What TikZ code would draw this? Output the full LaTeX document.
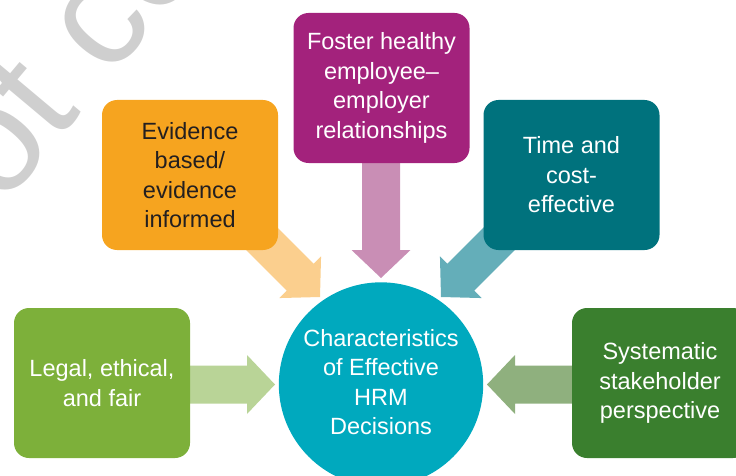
\documentclass[tikz,border=0pt]{standalone}
\usepackage{xcolor}
\usepackage{fontspec}
\setmainfont{Liberation Sans}
\usepackage{tikz}
\usetikzlibrary{positioning, calc, backgrounds}

\definecolor{evidOrange}{HTML}{F6A41F}
\definecolor{evidArrow}{HTML}{FBCF8E}
\definecolor{fosterPurple}{HTML}{A3227C}
\definecolor{fosterArrow}{HTML}{C98EB5}
\definecolor{timeTeal}{HTML}{00727D}
\definecolor{timeArrow}{HTML}{64AEB9}
\definecolor{coreBlue}{HTML}{00A9BE}
\definecolor{legalGreen}{HTML}{7DB03A}
\definecolor{legalArrow}{HTML}{B9D497}
\definecolor{stakeGreen}{HTML}{3A7F2E}
\definecolor{stakeArrow}{HTML}{8FB07E}
\definecolor{markGray}{HTML}{CFCFCF}
\definecolor{darkText}{HTML}{231F20}

\tikzset{
  pics/blockarrow/.style={
    code={
      \fill[pic actions] (0,0) -- (-28,-29.5) -- (-28,-19) -- (-#1,-19)
        -- (-#1,19) -- (-28,19) -- (-28,29.5) -- cycle;
    }
  }
}

\begin{document}
\begin{tikzpicture}[
      x=1pt, y=-1pt,
      trait/.style={
        rectangle,
        rounded corners=15pt,
        minimum width=176pt,
        minimum height=150pt,
        align=center,
        text=white,
        font=\fontsize{23.5}{29.5}\selectfont
      },
      core/.style={
        circle,
        minimum size=195pt,
        fill=coreBlue,
        align=center,
        text=white,
        font=\fontsize{23.5}{29.5}\selectfont
      },
      watermark/.style={
        text=markGray,
        font=\fontsize{150}{150}\selectfont,
        rotate=50
      }
    ]
    \useasboundingbox (0,0) rectangle (736,476);

    % Trait Nodes
    \node (evidence) [trait, fill=evidOrange, text=darkText] at (190,175) {Evidence\\based/\\evidence\\informed};
    \node (foster) [trait, fill=fosterPurple] at (381.5,88) {Foster healthy\\employee--\\employer\\relationships};
    \node (timeCost) [trait, fill=timeTeal] at (571.5,175) {Time and\\cost-\\effective};
    \node (legal) [trait, fill=legalGreen] at (102,383) {Legal, ethical,\\and fair};
    \node (stakeholder) [trait, fill=stakeGreen] at (660,383) {Systematic\\stakeholder\\perspective};

    % Core Node
    \node (coreCircle) [core] at (381,384.5) {\raisebox{-4pt}{\begin{tabular}{@{}c@{}}Characteristics\\of Effective\\HRM\\Decisions\end{tabular}}};

    % Arrows into the core
    \begin{scope}[on background layer]
      \node (mark) [watermark] at (70,52) {ot co};
      \pic [fill=legalArrow] at ($(coreCircle.center)+(-106,0)$) {blockarrow=105};
      \pic [fill=stakeArrow, rotate=180] at ($(coreCircle.center)+(106,0)$) {blockarrow=105};
      \pic [fill=fosterArrow, rotate=-90] at ($(coreCircle.center)+(0,-106.5)$) {blockarrow=138};
      \pic [fill=evidArrow, rotate=-45] at ($(coreCircle.center)+(-61,-87.5)$) {blockarrow=113};
      \pic [fill=timeArrow, rotate=-135] at ($(coreCircle.center)+(60,-87.5)$) {blockarrow=113};
    \end{scope}

    \end{tikzpicture}
\end{document}
